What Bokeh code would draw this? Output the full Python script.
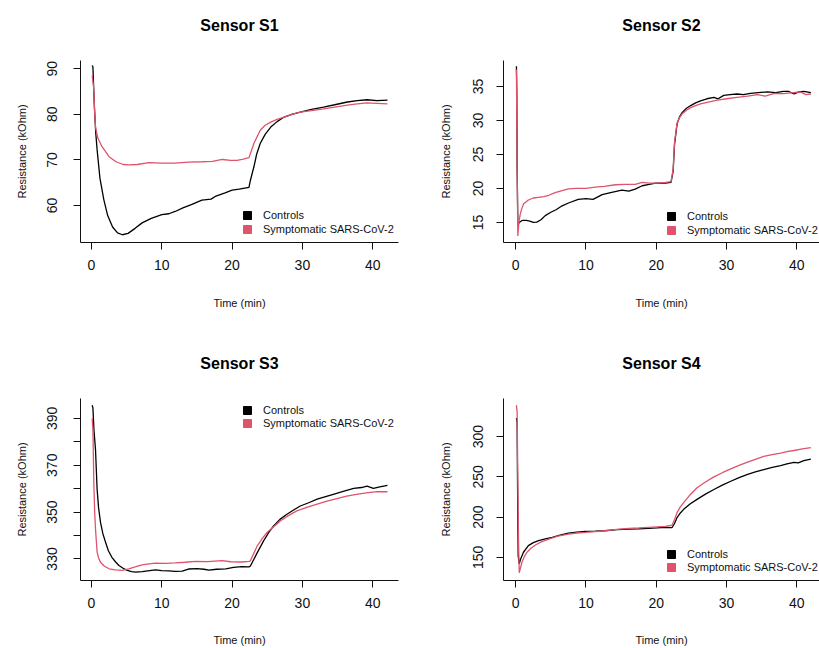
from bokeh.plotting import figure
from bokeh.layouts import column, row
from bokeh.models import Range1d, FixedTicker, Legend, LegendItem
from bokeh.embed import file_html
from bokeh.resources import INLINE

FONT = "Liberation Sans"
BLACK = "#000000"
RED = "#DF536B"
LABELS = ["Controls", "Symptomatic SARS-CoV-2"]
X_TICKS = [0, 10, 20, 30, 40]
NAN = float("nan")

# ---------------- Sensor S1 ----------------
s1_t_ctrl = [0.1, 0.2, 0.4, 0.6, 0.8, 1.2, 1.75, 2.3, 3.0, 3.7, 4.4, 5.2, 6.2, 7.2, 8.5, 10.0, 11.0, 11.9,
             13.0, 14.2, 15.7, 17.0, 17.6, 19.0, 20.0, 21.0, 22.4, 22.6, 23.1, 23.5, 24.0, 24.7, 25.5, 26.4,
             27.4, 28.5, 29.7, 31.3, 33.0, 34.6, 36.4, 37.8, 39.2, 40.6, 42.1]
s1_v_ctrl = [90.7, 90.4, 82.0, 76.0, 72.2, 66.0, 61.3, 57.8, 55.3, 54.0, 53.6, 53.9, 55.0, 56.2, 57.2, 58.0, 58.2, 58.7,
             59.5, 60.2, 61.2, 61.4, 62.0, 62.8, 63.4, 63.6, 64.0, 65.5, 68.5, 71.3, 73.6, 75.6, 77.2, 78.4,
             79.4, 80.0, 80.5, 81.1, 81.6, 82.1, 82.7, 83.0, 83.2, 83.0, 83.1]
s1_t_sym = [0.1, 0.3, 0.45, 0.57, 0.9, 1.5, 2.5, 3.5, 4.5, 5.3, 6.5, 8.2, 10.0, 11.9, 13.8, 15.7, 17.2, 18.6,
            19.8, 20.7, 21.6, 22.4, 23.1, 24.0, 24.7, 25.5, 26.4, 27.4, 28.5, 29.7, 31.3, 33.0, 34.6, 36.4,
            37.8, 39.2, 40.6, 42.1]
s1_v_sym = [88.5, 86.0, 80.5, 77.2, 74.8, 72.9, 70.7, 69.6, 69.0, 68.9, 69.0, 69.4, 69.3, 69.3, 69.5, 69.6, 69.7, 70.1,
            69.9, 69.9, 70.2, 70.5, 73.6, 76.5, 77.6, 78.3, 78.9, 79.4, 80.0, 80.5, 80.8, 81.2, 81.6, 82.0,
            82.3, 82.5, 82.4, 82.3]
s1_y_ticks = [60, 70, 80, 90]

# ---------------- Sensor S2 ----------------
s2_t_ctrl = [0.1, 0.15, 0.2, 0.3, 0.5, 0.9, 1.5, 2.0, 2.5, 3.0, 3.6, 4.2, 5.0, 5.8, 6.6, 7.6, 8.9, 10.0, 11.0,
             12.3, 13.5, 15.1, 16.1, 17.0, 18.0, 19.0, 19.9, 21.3, 22.1, 22.4, 22.6, 22.96, 23.3, 23.7, 24.3,
             24.9, 25.6, 26.3, 27.2, 28.2, 28.8, 29.6, 30.5, 31.5, 32.4, 33.4, 34.5, 35.8, 37.0, 38.1, 38.8,
             39.6, 40.3, 41.0, 42.0]
s2_v_ctrl = [38.0, 34.5, 23.5, 14.6, 15.0, 15.3, 15.3, 15.2, 15.0, 15.05, 15.4, 16.0, 16.5, 16.9, 17.45, 17.9, 18.4,
             18.5, 18.4, 19.1, 19.4, 19.75, 19.6, 19.9, 20.4, 20.6, 20.8, 20.8, 20.9, 22.5, 26.5, 29.5, 30.5,
             31.2, 31.8, 32.2, 32.6, 32.9, 33.2, 33.4, 33.2, 33.7, 33.8, 33.9, 33.8, 34.0, 34.1, 34.2, 34.1,
             34.3, 34.3, 33.9, 34.2, 34.3, 34.1]
s2_t_sym = [0.1, 0.2, 0.3, 0.45, 0.64, 0.85, 1.1, 1.8, 2.5, 3.25, 4.0, 4.7, 5.6, 6.6, 7.5, 8.5, 10.0, 11.3,
            12.6, 14.2, 15.5, 17.0, 18.0, 19.0, 19.9, 21.3, 22.1, 22.4, 22.6, 22.96, 23.3, 23.7, 24.3, 24.9,
            25.6, 26.3, 27.4, 28.7, 30.0, 31.5, 33.0, 34.4, 35.5, 36.8, 38.1, 39.5, 40.5, 41.3, 42.0]
s2_v_sym = [37.5, 23.0, 13.0, 15.0, 16.2, 17.0, 17.7, 18.3, 18.6, 18.7, 18.8, 19.0, 19.4, 19.7, 19.95, 20.0, 20.0,
            20.2, 20.3, 20.55, 20.6, 20.6, 20.9, 20.8, 20.8, 20.9, 21.0, 22.8, 26.8, 29.6, 30.4, 31.0, 31.5,
            31.9, 32.2, 32.45, 32.7, 33.0, 33.2, 33.4, 33.6, 33.8, 33.6, 34.0, 33.95, 34.1, 34.2, 33.8, 33.9]
s2_y_ticks = [15, 20, 25, 30, 35]

# ---------------- Sensor S3 ----------------
s3_t_ctrl = [0.1, 0.2, 0.35, 0.57, 0.8, 1.0, 1.28, 1.6, 2.0, 2.4, 2.9, 3.4, 3.9, 4.5, 5.1, 5.7, 6.3, 7.2, 8.0,
             9.1, 10.0, 11.0, 11.9, 12.9, 13.8, 15.0, 16.0, 16.7, 17.8, 19.1, 20.2, 21.4, 22.4, 22.6, 23.6,
             24.5, 25.2, 25.9, 26.8, 27.8, 28.8, 29.7, 30.9, 32.1, 33.3, 34.4, 35.8, 37.3, 38.4, 39.2, 40.1,
             41.0, 42.1]
s3_v_ctrl = [395.6, 394.5, 385.0, 376.6, 359.7, 352.0, 345.6, 341.0, 337.1, 333.5, 330.7, 328.8, 327.2, 326.0,
             325.1, 324.6, 324.4, 324.6, 324.9, 325.3, 325.0, 324.9, 324.7, 324.8, 325.7, 325.9, 325.6, 325.2,
             325.6, 325.8, 326.4, 326.7, 326.6, 327.0, 332.8, 337.8, 341.2, 344.1, 346.9, 349.1, 351.0, 352.6,
             354.0, 355.5, 356.6, 357.6, 358.8, 360.1, 360.5, 361.1, 360.1, 360.8, 361.4]
s3_t_sym = [0.1, 0.2, 0.33, 0.45, 0.57, 0.8, 1.0, 1.28, 1.8, 2.5, 3.4, 4.4, 5.3, 6.2, 7.2, 8.2, 9.1, 10.5,
            11.9, 13.3, 14.8, 16.5, 18.6, 19.8, 21.4, 22.4, 22.6, 23.6, 24.3, 25.0, 26.0, 26.9, 28.0, 29.2,
            30.6, 32.1, 33.5, 34.9, 36.3, 37.7, 39.1, 40.6, 42.1]
s3_v_sym = [390.0, 385.0, 362.5, 350.0, 342.7, 332.8, 330.5, 328.6, 327.0, 325.8, 325.3, 325.1, 325.8, 326.6,
            327.5, 327.9, 328.2, 328.1, 328.3, 328.6, 329.0, 328.9, 329.3, 328.8, 328.7, 329.0, 329.2, 335.7,
            338.8, 341.4, 344.0, 346.3, 348.5, 350.5, 352.0, 353.4, 354.7, 355.8, 356.8, 357.6, 358.2, 358.7,
            358.7]
s3_y_ticks = [330, 340, 350, 360, 370, 380, 390]
s3_y_hidden = [340, 360, 380]

# ---------------- Sensor S4 ----------------
s4_t_ctrl = [0.1, 0.2, 0.25, 0.3, 0.35, 0.5, 0.7, 1.1, 1.8, 2.5, 3.25, 4.2, 5.2, 6.3, 7.5, 8.7, 9.9, 11.3,
             12.7, 14.4, 16.1, 17.5, 18.9, 20.1, 21.3, 22.25, 22.6, 22.96, 23.4, 23.9, 24.8, 25.8, 27.0, 28.2,
             29.4, 30.6, 31.7, 32.9, 34.1, 35.3, 36.5, 37.7, 38.6, 39.6, 40.2, 41.0, 42.0]
s4_v_ctrl = [323, 318, 250, 195, 152, 141.8, 148, 156.3, 164.5, 168.2, 170.7, 173, 174.8, 177.5, 180.1, 181.4,
             182.2, 182.5, 183.0, 184.3, 185.1, 185.4, 185.9, 186.5, 187.2, 187.0, 192, 199.4, 204.8, 209.6,
             216.2, 222, 228.5, 234.3, 239.6, 244.5, 248.8, 252.8, 256.0, 258.9, 261.6, 263.9, 266.0, 268.0,
             267.4, 270.2, 272.1]
s4_t_sym = [0.1, 0.2, 0.3, 0.4, 0.5, 0.65, 0.88, 1.2, 1.6, 2.2, 2.8, 3.7, 4.7, 6.0, 7.5, 8.7, 9.9, 11.3, 12.7,
            14.4, 16.1, 17.5, 18.9, 20.1, 21.3, 22.25, 22.6, 22.96, 23.4, 23.9, 24.8, 25.8, 27.0, 28.2, 29.4,
            30.6, 31.7, 32.9, 34.1, 35.3, 36.5, 37.7, 38.6, 39.6, 40.8, 42.0]
s4_v_sym = [339, 330, 246, 170, 130.7, 136, 143.9, 150.5, 156.3, 161.5, 165.3, 169.4, 172.7, 176.2, 178.9, 180.2,
            181.0, 182.0, 183.0, 184.8, 186.0, 186.5, 187.2, 187.8, 188.4, 189.9, 197, 205.5, 212.3, 217.9,
            227.5, 236.4, 243.5, 249.9, 255.1, 259.8, 264, 268, 271.8, 275.3, 277.5, 279.4, 281.2, 282.7,
            284.7, 286.4]
s4_y_ticks = [150, 200, 250, 300]


def panel(title, tc, vc, ts, vs, xr, yr, yticks, hidden, w, h, borders, leg_xy, leg_gap, ystand, xstand):
    left, right, top, bottom = borders
    p = figure(width=w, height=h, output_backend="svg", toolbar_location=None,
               x_range=Range1d(*xr), y_range=Range1d(*yr),
               min_border_left=left, min_border_right=right,
               min_border_top=top, min_border_bottom=bottom)
    p.outline_line_color = None
    p.grid.visible = False
    p.background_fill_color = "white"
    p.border_fill_color = "white"

    p.title.text = title + "\n"
    p.title.align = "center"
    p.title.text_font = FONT
    p.title.text_font_size = "16px"
    p.title.text_font_style = "bold"
    p.title.text_color = "#000000"
    p.title.text_line_height = 1.2
    p.title.standoff = 12

    for ax in (p.xaxis[0], p.yaxis[0]):
        ax.axis_line_color = "#111111"
        ax.major_tick_line_color = "#111111"
        ax.major_tick_out = 7
        ax.major_tick_in = 0
        ax.minor_tick_line_color = None
        ax.major_label_text_font = FONT
        ax.major_label_text_font_size = "14px"
        ax.major_label_text_color = "#111111"
        ax.axis_label_text_font = FONT
        ax.axis_label_text_font_size = "11px"
        ax.axis_label_text_font_style = "normal"
        ax.axis_label_text_color = "#111111"

    p.xaxis.ticker = FixedTicker(ticks=X_TICKS)
    p.xaxis.axis_label = "Time (min)"
    p.xaxis.major_label_standoff = 10
    p.xaxis.axis_label_standoff = xstand

    p.yaxis.ticker = FixedTicker(ticks=yticks)
    p.yaxis.major_label_orientation = "vertical"
    p.yaxis.axis_label = "Resistance (kOhm)"
    p.yaxis.major_label_standoff = ystand[0]
    p.yaxis.axis_label_standoff = ystand[1]
    if hidden:
        p.yaxis.major_label_overrides = {v: "" for v in hidden}

    p.line(tc, vc, line_color=BLACK, line_width=1.3)
    p.line(ts, vs, line_color=RED, line_width=1.3)

    # legend handles (never drawn: NaN position)
    colors = [BLACK, RED]
    vx, vy = leg_xy
    for i, (lab, col) in enumerate(zip(LABELS, colors)):
        sq = p.scatter(x=[NAN], y=[NAN], marker="square", size=8, fill_color=col, line_color=col)
        leg = Legend(items=[LegendItem(label=lab, renderers=[sq])],
                     location=(vx, vy + (1 - i) * leg_gap), orientation="vertical",
                     background_fill_alpha=0, border_line_alpha=0,
                     padding=0, margin=0, spacing=0,
                     glyph_width=20, glyph_height=20, label_height=20,
                     label_standoff=6, label_text_font=FONT,
                     label_text_font_size="11px", label_text_color="#111111")
        p.add_layout(leg)
    return p


p1 = panel("Sensor S1", s1_t_ctrl, s1_v_ctrl, s1_t_sym, s1_v_sym,
           (-1.565, 43.67), (51.9, 91.8), s1_y_ticks, None, 410, 320, (80, 12, 60, 77),
           (157, 3), 14, (16, 17), 24)
p2 = panel("Sensor S2", s2_t_ctrl, s2_v_ctrl, s2_t_sym, s2_v_sym,
           (-1.74, 43.23), (12.05, 38.83), s2_y_ticks, None, 409, 320, (93, 0, 60, 78),
           (158, 2), 14, (13, 19), 24)
p3 = panel("Sensor S3", s3_t_ctrl, s3_v_ctrl, s3_t_sym, s3_v_sym,
           (-1.565, 43.67), (320.8, 398.5), s3_y_ticks, s3_y_hidden, 410, 328, (80, 12, 78, 66),
           (157, 147), 13, (16, 17), 23)
p4 = panel("Sensor S4", s4_t_ctrl, s4_v_ctrl, s4_t_sym, s4_v_sym,
           (-1.74, 43.23), (121.2, 347.3), s4_y_ticks, None, 409, 328, (93, 0, 78, 66),
           (158, 3), 13, (13, 19), 23)

layout = column(row(p1, p2, spacing=0), row(p3, p4, spacing=0), spacing=0)
open("out.html", "w").write(file_html(layout, INLINE))
